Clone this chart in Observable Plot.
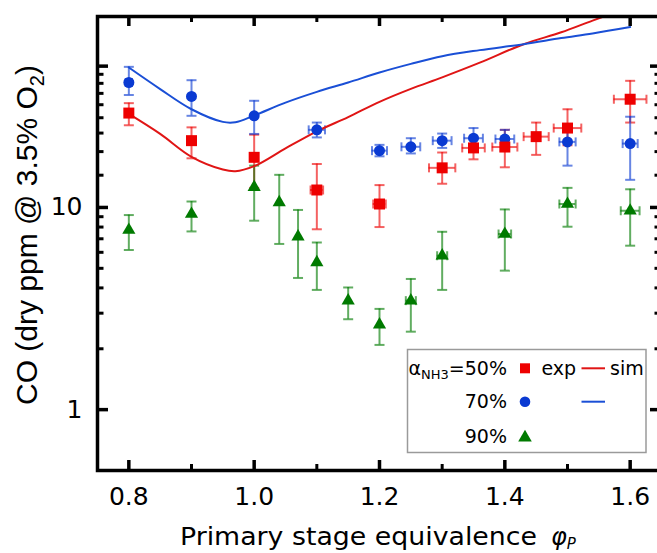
<!DOCTYPE html>
<html>
<head>
<meta charset="utf-8">
<script src="https://cdn.jsdelivr.net/npm/d3@7"></script>
<script src="https://cdn.jsdelivr.net/npm/@observablehq/plot@0.6"></script>
<style>
  html, body { margin: 0; padding: 0; background: white; overflow: hidden; }
</style>
</head>
<body>
<div id="chart"></div>
<script>
// ---- tick values ----
const xMajor = [0.8, 1.0, 1.2, 1.4, 1.6];
const xMinor = [0.9, 1.1, 1.3, 1.5];
const yMajor = [1, 10, 50];
const yMinor = [2, 3, 4, 5, 6, 7, 8, 9, 14.44, 18.89, 23.33, 27.78, 32.22, 36.67, 41.11, 45.56];

// ---- alpha_NH3 = 50 % (experiment) ----
const redX   = [0.8, 0.9, 1.0, 1.1, 1.2, 1.3, 1.35, 1.4, 1.45, 1.5, 1.6];
const redY   = [29.3, 21.4, 17.7, 12.2, 10.4, 15.7, 19.7, 19.9, 22.4, 24.7, 34.3];
const redLo  = [25.5, 17.5, 12.5, 7.8, 8.0, 13.1, 17.3, 15.8, 18.2, 20.3, 26.3];
const redHi  = [32.8, 24.9, 22.9, 16.4, 12.9, 18.7, 22.2, 24.2, 26.3, 30.6, 42.3];
const redXe  = [0, 0, 0, 0.01, 0.01, 0.021, 0.018, 0.02, 0.02, 0.022, 0.026];

// ---- alpha_NH3 = 70 % (experiment) ----
const blueX  = [0.8, 0.9, 1.0, 1.1, 1.2, 1.25, 1.3, 1.35, 1.4, 1.5, 1.6];
const blueY  = [41.5, 35.4, 28.4, 24.2, 19.1, 19.95, 21.4, 22.0, 21.8, 21.1, 20.7];
const blueLo = [36.0, 28.4, 23.1, 22.2, 17.9, 18.5, 19.7, 20.0, 19.1, 16.1, 13.7];
const blueHi = [49.6, 42.6, 33.7, 26.3, 20.4, 22.0, 23.2, 24.7, 24.2, 25.8, 28.1];
const blueXe = [0.005, 0, 0, 0.013, 0.012, 0.015, 0.015, 0.015, 0.015, 0.013, 0.012];

// ---- alpha_NH3 = 90 % (experiment) ----
const greenX  = [0.8, 0.9, 1.0, 1.04, 1.07, 1.1, 1.15, 1.2, 1.25, 1.3, 1.4, 1.5, 1.6];
const greenY  = [7.73, 9.28, 12.6, 10.6, 7.17, 5.35, 3.46, 2.63, 3.46, 5.77, 7.39, 10.4, 9.63];
const greenLo = [6.16, 7.61, 8.6, 6.6, 4.48, 3.91, 2.80, 2.09, 2.43, 3.91, 4.87, 8.03, 6.47];
const greenHi = [9.17, 10.7, 16.1, 14.5, 9.72, 6.71, 4.02, 3.15, 4.43, 7.58, 9.78, 12.5, 12.3];
const greenXe = [0, 0, 0, 0, 0, 0, 0, 0, 0.008, 0.008, 0.01, 0.013, 0.015];

// ---- simulations ----
const simX    = [0.8, 0.85, 0.9, 0.95, 0.97, 1.0, 1.05, 1.1, 1.15, 1.2, 1.25, 1.3, 1.36, 1.43, 1.49, 1.54, 1.6];
const simRed  = [29.0, 23.1, 17.8, 15.4, 15.1, 16.0, 19.6, 23.8, 28.0, 33.3, 38.6, 44.0, 52.0, 64.2, 73.5, 84.0, 98.0];
const simBlue = [49.2, 38.5, 30.6, 26.5, 26.4, 28.5, 33.0, 37.3, 41.5, 46.5, 51.3, 56.0, 60.0, 64.2, 68.8, 72.5, 78.0];

const RED = "#ee0000", BLUE = "#0a3ad2", GREEN = "#007a00";

function rows(x, y, lo, hi, xe) {
  return x.map((v, i) => ({x: v, y: y[i], lo: lo[i], hi: hi[i], xe: xe[i]}));
}
const series = [
  {data: rows(redX, redY, redLo, redHi, redXe), color: RED, symbol: "square", r: 6.2},
  {data: rows(blueX, blueY, blueLo, blueHi, blueXe), color: BLUE, symbol: "circle", r: 5.5},
  {data: rows(greenX, greenY, greenLo, greenHi, greenXe), color: GREEN, symbol: "triangle", r: 4.9}
];
const simRedData = simX.map((x, i) => ({x, y: simRed[i]}));
const simBlueData = simX.map((x, i) => ({x, y: simBlue[i]}));

const hCap = {draw(ctx, size) { const r = Math.sqrt(size / Math.PI); ctx.moveTo(-r, 0); ctx.lineTo(r, 0); }};
const vCap = {draw(ctx, size) { const r = Math.sqrt(size / Math.PI); ctx.moveTo(0, -r); ctx.lineTo(0, r); }};

const W = 665, H = 553, mT = 16, mB = 83, mL = 97, mR = 4;
const innerW = W - mL - mR, innerH = H - mT - mB;

const errMarks = [];
for (const s of series) {
  const xe = s.data.filter(d => d.xe > 0);
  const st = {stroke: s.color, strokeOpacity: 0.62, strokeWidth: 2};
  errMarks.push(
    Plot.ruleX(s.data, {x: "x", y1: "lo", y2: "hi", ...st}),
    Plot.dot(s.data, {x: "x", y: "lo", symbol: hCap, r: 5, fill: "none", ...st}),
    Plot.dot(s.data, {x: "x", y: "hi", symbol: hCap, r: 5, fill: "none", ...st}),
    Plot.ruleY(xe, {y: "y", x1: d => d.x - d.xe, x2: d => d.x + d.xe, ...st}),
    Plot.dot(xe, {x: d => d.x - d.xe, y: "y", symbol: vCap, r: 4.5, fill: "none", ...st}),
    Plot.dot(xe, {x: d => d.x + d.xe, y: "y", symbol: vCap, r: 4.5, fill: "none", ...st})
  );
}
const dotMarks = [series[1], series[0], series[2]].map(s =>
  Plot.dot(s.data, {x: "x", y: "y", symbol: s.symbol, r: s.r, fill: s.color, stroke: "none"}));

const tickW = 3.5;
const plot = Plot.plot({
  width: W, height: H,
  marginTop: mT, marginBottom: mB, marginLeft: mL, marginRight: mR,
  x: {domain: [0.75, 1.65]},
  y: {type: "log", domain: [0.5, 88]},
  style: {fontFamily: "DejaVu Sans", fontSize: "25px", color: "black", background: "white", overflow: "visible", maxWidth: "none"},
  marks: [
    ...errMarks,
    Plot.line(simRedData, {x: "x", y: "y", stroke: "#e01515", strokeWidth: 2, curve: "catmull-rom", clip: true}),
    Plot.line(simBlueData, {x: "x", y: "y", stroke: "#1a4fd6", strokeWidth: 2, curve: "catmull-rom", clip: true}),
    ...dotMarks,
    // inward ticks
    Plot.tickX(xMajor, {x: d => d, insetTop: innerH - 10, strokeWidth: tickW}),
    Plot.tickX(xMajor, {x: d => d, insetBottom: innerH - 10, strokeWidth: tickW}),
    Plot.tickX(xMinor, {x: d => d, insetTop: innerH - 6, strokeWidth: 3}),
    Plot.tickX(xMinor, {x: d => d, insetBottom: innerH - 6, strokeWidth: 3}),
    Plot.tickY(yMajor, {y: d => d, insetRight: innerW - 11, strokeWidth: tickW}),
    Plot.tickY(yMajor, {y: d => d, insetLeft: innerW - 11, strokeWidth: tickW}),
    Plot.tickY(yMinor, {y: d => d, insetRight: innerW - 6.5, strokeWidth: 3}),
    Plot.tickY(yMinor, {y: d => d, insetLeft: innerW - 6.5, strokeWidth: 3}),
    Plot.frame({stroke: "black", strokeWidth: 3.5}),
    Plot.axisX({ticks: xMajor, tickSize: 0, tickPadding: 17, tickFormat: d3.format(".1f"), label: null}),
    Plot.axisY({ticks: yMajor, tickSize: 0, tickPadding: 15, tickFormat: d => String(d), label: null})
  ]
});
plot.style.maxWidth = "none";
plot.style.width = W + "px";
plot.style.height = H + "px";

const svg = d3.select(plot);

// y-axis title
const yl = svg.append("text")
  .attr("transform", "translate(37,235) rotate(-90)")
  .attr("text-anchor", "middle")
  .attr("font-family", "Liberation Sans, Arial, sans-serif")
  .attr("font-size", 30)
  .attr("fill", "black");
yl.append("tspan").text("CO (dry ppm @ 3.5% O");
yl.append("tspan").attr("font-size", 20).attr("dy", 7).text("2");
yl.append("tspan").attr("font-size", 30).attr("dy", -7).text(")");

// x-axis title
svg.append("text")
  .attr("x", 180).attr("y", 545)
  .attr("text-anchor", "start")
  .attr("font-family", "DejaVu Sans")
  .attr("font-size", 24)
  .attr("textLength", 357).attr("lengthAdjust", "spacingAndGlyphs")
  .attr("fill", "black")
  .text("Primary stage equivalence");
const phi = svg.append("text")
  .attr("x", 551).attr("y", 545)
  .attr("text-anchor", "start")
  .attr("font-family", "DejaVu Sans")
  .attr("font-style", "italic")
  .attr("font-size", 24)
  .attr("fill", "black");
phi.append("tspan").text("φ");
phi.append("tspan").attr("font-size", 15).attr("dy", 4).text("P");

// legend
const lg = svg.append("g").attr("font-family", "DejaVu Sans").attr("font-size", 19).attr("fill", "black");
lg.append("rect").attr("x", 407.5).attr("y", 349.5).attr("width", 238.5).attr("height", 103)
  .attr("fill", "white").attr("stroke", "#9a9a9a").attr("stroke-width", 1.5);
const rowY = [368.3, 401.7, 436.2];
const t1 = lg.append("text").attr("x", 507).attr("y", rowY[0] + 6.6).attr("text-anchor", "end");
t1.append("tspan").text("α");
t1.append("tspan").attr("font-size", 13).attr("dy", 4).text("NH3");
t1.append("tspan").attr("font-size", 19).attr("dy", -4).text("=50%");
lg.append("text").attr("x", 507).attr("y", rowY[1] + 6.6).attr("text-anchor", "end").text("70%");
lg.append("text").attr("x", 507).attr("y", rowY[2] + 6.6).attr("text-anchor", "end").text("90%");
lg.append("text").attr("x", 541.5).attr("y", rowY[0] + 6.6).attr("text-anchor", "start").text("exp");
lg.append("text").attr("x", 610).attr("y", rowY[0] + 6.6).attr("text-anchor", "start").text("sim");
const sym = [[d3.symbolSquare, 100, RED], [d3.symbolCircle, Math.PI * 5.3 * 5.3, BLUE], [d3.symbolTriangle, 80, GREEN]];
sym.forEach(([s, size, c], i) => {
  lg.append("path").attr("d", d3.symbol(s, size)()).attr("transform", `translate(525,${rowY[i] + (i === 2 ? 1.5 : 0)})`).attr("fill", c);
});
lg.append("line").attr("x1", 581.5).attr("x2", 605).attr("y1", rowY[0]).attr("y2", rowY[0]).attr("stroke", "#e01515").attr("stroke-width", 2);
lg.append("line").attr("x1", 581.5).attr("x2", 605).attr("y1", rowY[1]).attr("y2", rowY[1]).attr("stroke", "#1a4fd6").attr("stroke-width", 2);

document.getElementById("chart").appendChild(plot);
</script>
</body>
</html>
